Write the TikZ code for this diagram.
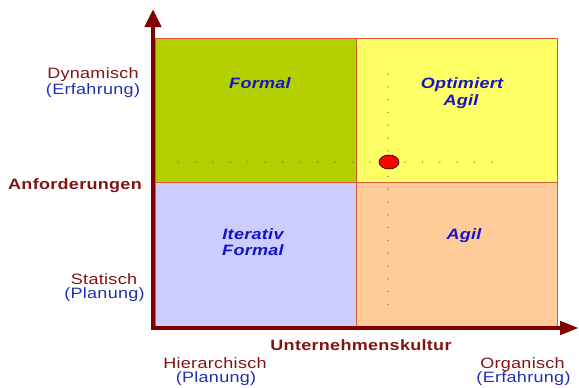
\documentclass[tikz,border=0pt]{standalone}
\usepackage{fontspec}
\setmainfont{Liberation Sans}[FakeStretch=1.2,LetterSpace=2.0]
\usepackage{tikz}
\usetikzlibrary{arrows.meta,shapes.geometric}

\definecolor{axisred}{HTML}{800000}
\definecolor{textred}{HTML}{7F1414}
\definecolor{subblue}{HTML}{2030B0}
\definecolor{quadblue}{HTML}{1414C8}
\definecolor{cellline}{HTML}{DC5A32}
\definecolor{cellgreen}{HTML}{B3CF00}
\definecolor{cellyellow}{HTML}{FFFF66}
\definecolor{celllilac}{HTML}{CCCCFF}
\definecolor{cellpeach}{HTML}{FFCC99}

\tikzset{
  cell/.style={rectangle,draw=cellline,line width=1pt,inner sep=0pt,
    minimum width=201pt,minimum height=144pt},
  axis/.style={line width=4.5pt,color=axisred},
  txt/.style={inner sep=0pt,anchor=base,font=\fontsize{15}{17}\selectfont},
  axislabel/.style={txt,text=textred,font=\fontsize{15}{17}\selectfont\bfseries},
  endlabel/.style={txt,text=textred},
  sublabel/.style={txt,text=subblue},
  quadlabel/.style={txt,text=quadblue,font=\fontsize{15}{17}\selectfont\bfseries\itshape},
  dotmark/.style={fill=black!55}
}

\begin{document}
\begin{tikzpicture}[x=1pt,y=-1pt]
	\useasboundingbox (0,0) rectangle (579,388);

	% Quadranten
	\node[cell,fill=cellgreen]  (formal)   at (255.5,110) {};
	\node[cell,fill=cellyellow] (optagil)  at (456.5,110) {};
	\node[cell,fill=celllilac]  (iterativ) at (255.5,254) {};
	\node[cell,fill=cellpeach]  (agil)     at (456.5,254) {};

	\node[quadlabel] (formaltxt) at (260,88) {Formal};
	\node[quadlabel] (opttxt)    at (462,88) {Optimiert};
	\node[quadlabel] (opttxtb)   at (461,105) {Agil};
	\node[quadlabel] (itertxt)   at (253,239) {Iterativ};
	\node[quadlabel] (itertxtb)  at (253,255) {Formal};
	\node[quadlabel] (agiltxt)   at (464,239) {Agil};

	% Hilfslinien
	\foreach \i in {0,...,18}
		\fill[dotmark] (178+\i*17.45,162) circle (0.75);
	\foreach \i in {0,...,18}
		\fill[dotmark] (388,74+\i*12.8) circle (0.75);

	\node[ellipse,draw=black,line width=0.6pt,fill=red,inner sep=0pt,
		minimum width=20pt,minimum height=14pt] (pos) at (389,162) {};

	% Achsen
	\coordinate (o) at (153,330);
	\coordinate (ytip) at (153,9);
	\coordinate (xo) at (151,328);
	\coordinate (xtip) at (579,328);
	\draw[axis,-{Triangle[length=18pt,width=16pt]}] (o) -- (ytip);
	\draw[axis,-{Triangle[length=19pt,width=13pt]}] (xo) -- (xtip);

	% Beschriftung
	\node[endlabel] (dyn)     at (93,78)  {Dynamisch};
	\node[sublabel] (dynsub)  at (93,94)  {(Erfahrung)};
	\node[axislabel] (anf)    at (75,189) {Anforderungen};
	\node[endlabel] (stat)    at (104,284) {Statisch};
	\node[sublabel] (statsub) at (104.5,298) {(Planung)};

	\node[axislabel] (kultur) at (361,350) {Unternehmenskultur};
	\node[endlabel] (hier)    at (215,368) {Hierarchisch};
	\node[sublabel] (hiersub) at (216,382) {(Planung)};
	\node[endlabel] (org)     at (522.5,368) {Organisch};
	\node[sublabel] (orgsub)  at (523.5,382) {(Erfahrung)};

\end{tikzpicture}
\end{document}
